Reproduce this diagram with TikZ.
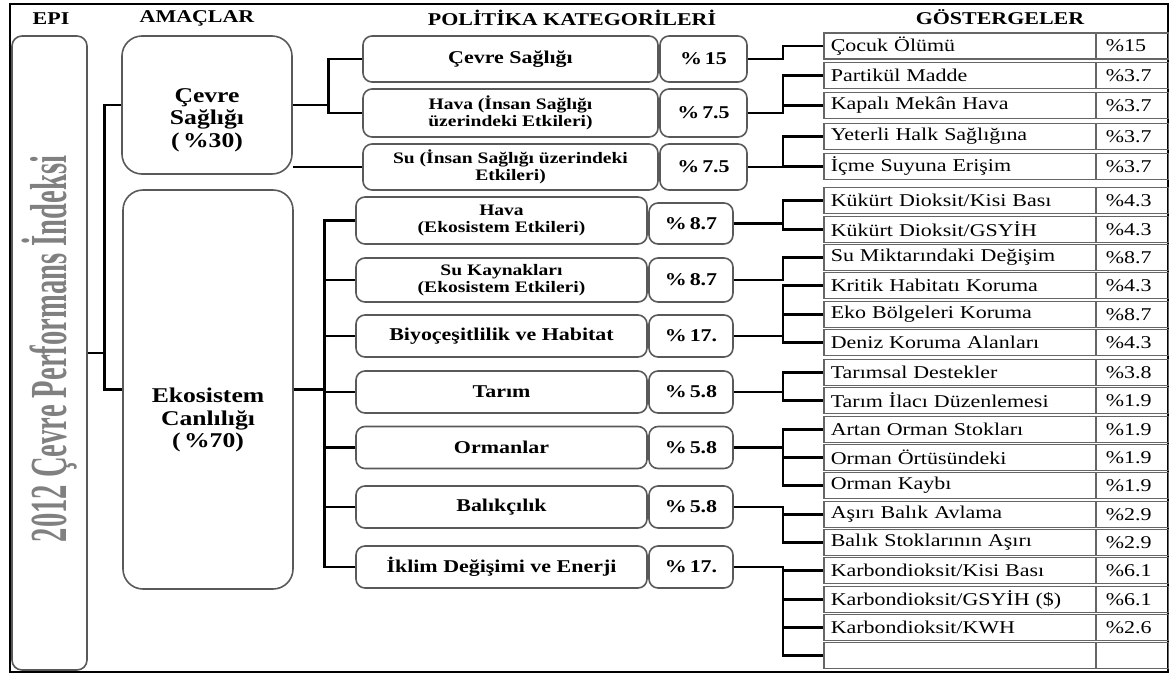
\documentclass[tikz,border=0pt]{standalone}
\usepackage{graphicx}
\usepackage{fontspec}
\setmainfont{Liberation Serif}[FakeStretch=1.22]
\newfontfamily\epifont{Liberation Serif}
\usetikzlibrary{positioning, calc}

\begin{document}
\begin{tikzpicture}[x=1pt, y=-1pt,
    frame/.style={draw, line width=2pt},
    link/.style={line width=2.8pt},
    head/.style={font=\bfseries\fontsize{18}{20}\selectfont},
    goalbox/.style={draw=black!65, line width=1.6pt, rounded corners=20pt, minimum width=170pt},
    goaltext/.style={align=center, font=\bfseries\fontsize{21}{22.5}\selectfont},
    catbox/.style={draw=black!65, line width=1.6pt, rounded corners=9pt, align=center, inner sep=0pt,
      font=\bfseries\fontsize{18}{17}\selectfont},
    smallcat/.style={font=\bfseries\fontsize{16}{17}\selectfont},
    indcell/.style={draw=black!60, line width=1.6pt, anchor=west, minimum height=26pt, inner ysep=0pt,
      inner xsep=7pt, text width=258pt, align=left, font=\fontsize{18}{20}\selectfont},
    valcell/.style={draw=black!60, line width=1.6pt, anchor=west, minimum height=26pt, inner ysep=0pt,
      inner xsep=10pt, text width=53pt, align=left, font=\fontsize{18}{20}\selectfont}]
  \useasboundingbox (0,0) rectangle (1169,675);
  \draw[frame] (10,4) rectangle (1168,672);

  % column headers
  \node[head] (hepi) at (51,19) {EPI};
  \node[head] (hgoal) at (197,18) {AMAÇLAR};
  \node[head] (hcat) at (572,18) {POLİTİKA KATEGORİLERİ};
  \node[head] (hind) at (1000,17) {GÖSTERGELER};

  % EPI
  \node[draw=black!65, line width=1.6pt, rounded corners=10pt, minimum width=75pt, minimum height=634pt] (epibox) at (49.5,353) {};
  \node[rotate=90, text=black!50] (epititle) at (50,349)
    {\scalebox{0.55}[1]{\epifont\bfseries\fontsize{52}{52}\selectfont 2012 Çevre Performans İndeksi}};

  % goals
  \node[goalbox, minimum height=138pt] (cevgoal) at (207,105) {};
  \node[goaltext] (cevgoaltext) at (207,120) {Çevre\\Sağlığı\\(\,\%30)};
  \node[goalbox, minimum height=399pt] (ekogoal) at (208,389.5) {};
  \node[goaltext] (ekogoaltext) at (208,420) {Ekosistem\\Canlılığı\\(\,\%70)};

  % policy categories
  \node[catbox, minimum width=295pt, minimum height=46pt] (cat1) at (510.5,59) {Çevre Sağlığı};
  \node[catbox, minimum width=87pt, minimum height=46pt] (pct1) at (703.5,59) {\%\,15};
  \node[catbox, smallcat, minimum width=295pt, minimum height=48pt] (cat2) at (510.5,113) {Hava (İnsan Sağlığı\\üzerindeki Etkileri)};
  \node[catbox, minimum width=87pt, minimum height=48pt] (pct2) at (703.5,113) {\%\,7.5};
  \node[catbox, smallcat, minimum width=295pt, minimum height=46pt] (cat3) at (510.5,167) {Su (İnsan Sağlığı üzerindeki\\Etkileri)};
  \node[catbox, minimum width=87pt, minimum height=46pt] (pct3) at (703.5,167) {\%\,7.5};

  \node[catbox, smallcat, minimum width=291pt, minimum height=47pt] (cat4) at (501.5,220.5) {Hava\\(Ekosistem Etkileri)};
  \node[catbox, minimum width=84pt, minimum height=41pt] (pct4) at (691,223.5) {\%\,8.7};
  \node[catbox, smallcat, minimum width=291pt, minimum height=44pt] (cat5) at (501.5,280) {Su Kaynakları\\(Ekosistem Etkileri)};
  \node[catbox, minimum width=84pt, minimum height=44pt] (pct5) at (691,280) {\%\,8.7};
  \node[catbox, minimum width=291pt, minimum height=42pt] (cat6) at (501.5,336) {Biyoçeşitlilik ve Habitat};
  \node[catbox, minimum width=84pt, minimum height=42pt] (pct6) at (691,336) {\%\,17.};
  \node[catbox, minimum width=291pt, minimum height=42pt] (cat7) at (501.5,392) {Tarım};
  \node[catbox, minimum width=84pt, minimum height=42pt] (pct7) at (691,392) {\%\,5.8};
  \node[catbox, minimum width=291pt, minimum height=42pt] (cat8) at (501.5,447.5) {Ormanlar};
  \node[catbox, minimum width=84pt, minimum height=42pt] (pct8) at (691,447.5) {\%\,5.8};
  \node[catbox, minimum width=291pt, minimum height=42pt] (cat9) at (501.5,507) {Balıkçılık};
  \node[catbox, minimum width=84pt, minimum height=42pt] (pct9) at (691,507) {\%\,5.8};
  \node[catbox, minimum width=291pt, minimum height=42pt] (cat10) at (501.5,567) {İklim Değişimi ve Enerji};
  \node[catbox, minimum width=84pt, minimum height=42pt] (pct10) at (691,567) {\%\,17.};

  % indicators
  \node[indcell] (ind1) at (823,46) {Çocuk Ölümü};
  \node[valcell] (val1) at (1095,46) {\%15};
  \node[indcell] (ind2) at (823,75.5) {Partikül Madde};
  \node[valcell] (val2) at (1095,75.5) {\%3.7};
  \node[indcell] (ind3) at (823,105.5) {Kapalı Mekân Hava};
  \node[valcell] (val3) at (1095,105.5) {\%3.7};
  \node[indcell] (ind4) at (823,136.5) {Yeterli Halk Sağlığına};
  \node[valcell] (val4) at (1095,136.5) {\%3.7};
  \node[indcell] (ind5) at (823,166.5) {İçme Suyuna Erişim};
  \node[valcell] (val5) at (1095,166.5) {\%3.7};
  \node[indcell] (ind6) at (823,200.5) {Kükürt Dioksit/Kisi Bası};
  \node[valcell] (val6) at (1095,200.5) {\%4.3};
  \node[indcell] (ind7) at (823,229.5) {Kükürt Dioksit/GSYİH};
  \node[valcell] (val7) at (1095,229.5) {\%4.3};
  \node[indcell] (ind8) at (823,257.5) {Su Miktarındaki Değişim};
  \node[valcell] (val8) at (1095,257.5) {\%8.7};
  \node[indcell] (ind9) at (823,285.5) {Kritik Habitatı Koruma};
  \node[valcell] (val9) at (1095,285.5) {\%4.3};
  \node[indcell] (ind10) at (823,314.5) {Eko Bölgeleri Koruma};
  \node[valcell] (val10) at (1095,314.5) {\%8.7};
  \node[indcell] (ind11) at (823,342.5) {Deniz Koruma Alanları};
  \node[valcell] (val11) at (1095,342.5) {\%4.3};
  \node[indcell] (ind12) at (823,372.5) {Tarımsal Destekler};
  \node[valcell] (val12) at (1095,372.5) {\%3.8};
  \node[indcell] (ind13) at (823,400.5) {Tarım İlacı Düzenlemesi};
  \node[valcell] (val13) at (1095,400.5) {\%1.9};
  \node[indcell] (ind14) at (823,429.5) {Artan Orman Stokları};
  \node[valcell] (val14) at (1095,429.5) {\%1.9};
  \node[indcell] (ind15) at (823,457.5) {Orman Örtüsündeki};
  \node[valcell] (val15) at (1095,457.5) {\%1.9};
  \node[indcell] (ind16) at (823,485.5) {Orman Kaybı};
  \node[valcell] (val16) at (1095,485.5) {\%1.9};
  \node[indcell] (ind17) at (823,514.5) {Aşırı Balık Avlama};
  \node[valcell] (val17) at (1095,514.5) {\%2.9};
  \node[indcell] (ind18) at (823,542.5) {Balık Stoklarının Aşırı};
  \node[valcell] (val18) at (1095,542.5) {\%2.9};
  \node[indcell] (ind19) at (823,570.5) {Karbondioksit/Kisi Bası};
  \node[valcell] (val19) at (1095,570.5) {\%6.1};
  \node[indcell] (ind20) at (823,599.5) {Karbondioksit/GSYİH (\$)};
  \node[valcell] (val20) at (1095,599.5) {\%6.1};
  \node[indcell] (ind21) at (823,627.5) {Karbondioksit/KWH};
  \node[valcell] (val21) at (1095,627.5) {\%2.6};
  \node[indcell] (ind22) at (823,655.5) {};
  \node[valcell] (val22) at (1095,655.5) {};

  % connectors
  \draw[link] (epibox.east) -- ++(17,0) |- (cevgoal.west);
  \draw[link] (epibox.east) -- ++(17,0) |- (ekogoal.west);

  \draw[link] (cevgoal.east) -- ++(36,0) |- (cat1.west);
  \draw[link] (cevgoal.east) -- ++(36,0) |- (cat2.west);
  \draw[link] (cevgoal.east |- cat3.west) -- (cat3.west);

  \draw[link] (ekogoal.east) -- ++(31,0) |- (cat4.west);
  \draw[link] (ekogoal.east) -- ++(31,0) |- (cat5.west);
  \draw[link] (ekogoal.east) -- ++(31,0) |- (cat6.west);
  \draw[link] (ekogoal.east) -- ++(31,0) |- (cat7.west);
  \draw[link] (ekogoal.east) -- ++(31,0) |- (cat8.west);
  \draw[link] (ekogoal.east) -- ++(31,0) |- (cat9.west);
  \draw[link] (ekogoal.east) -- ++(31,0) |- (cat10.west);

  \coordinate (bus) at (783,0);
  \draw[link] (pct1.east) -- (pct1.east -| bus) |- (ind1.west);
  \draw[link] (pct2.east) -- (pct2.east -| bus) |- (ind2.west) (pct2.east -| bus) |- (ind3.west);
  \draw[link] (pct3.east) -- (pct3.east -| bus) |- (ind4.west) (pct3.east -| bus) |- (ind5.west);
  \draw[link] (pct4.east) -- (pct4.east -| bus) |- (ind6.west) (pct4.east -| bus) |- (ind7.west);
  \draw[link] (pct5.east) -- (pct5.east -| bus) |- (ind8.west);
  \draw[link] (pct6.east) -- (pct6.east -| bus) |- (ind9.west) (pct6.east -| bus) |- (ind10.west)
    (pct6.east -| bus) |- (ind11.west);
  \draw[link] (pct7.east) -- (pct7.east -| bus) |- (ind12.west) (pct7.east -| bus) |- (ind13.west);
  \draw[link] (pct8.east) -- (pct8.east -| bus) |- (ind14.west) (pct8.east -| bus) |- (ind15.west)
    (pct8.east -| bus) |- (ind16.west);
  \draw[link] (pct9.east) -- (pct9.east -| bus) |- (ind17.west) (pct9.east -| bus) |- (ind18.west);
  \draw[link] (pct10.east) -- (pct10.east -| bus) |- (ind19.west) (pct10.east -| bus) |- (ind20.west)
    (pct10.east -| bus) |- (ind21.west) (pct10.east -| bus) |- (ind22.west);
\end{tikzpicture}
\end{document}
